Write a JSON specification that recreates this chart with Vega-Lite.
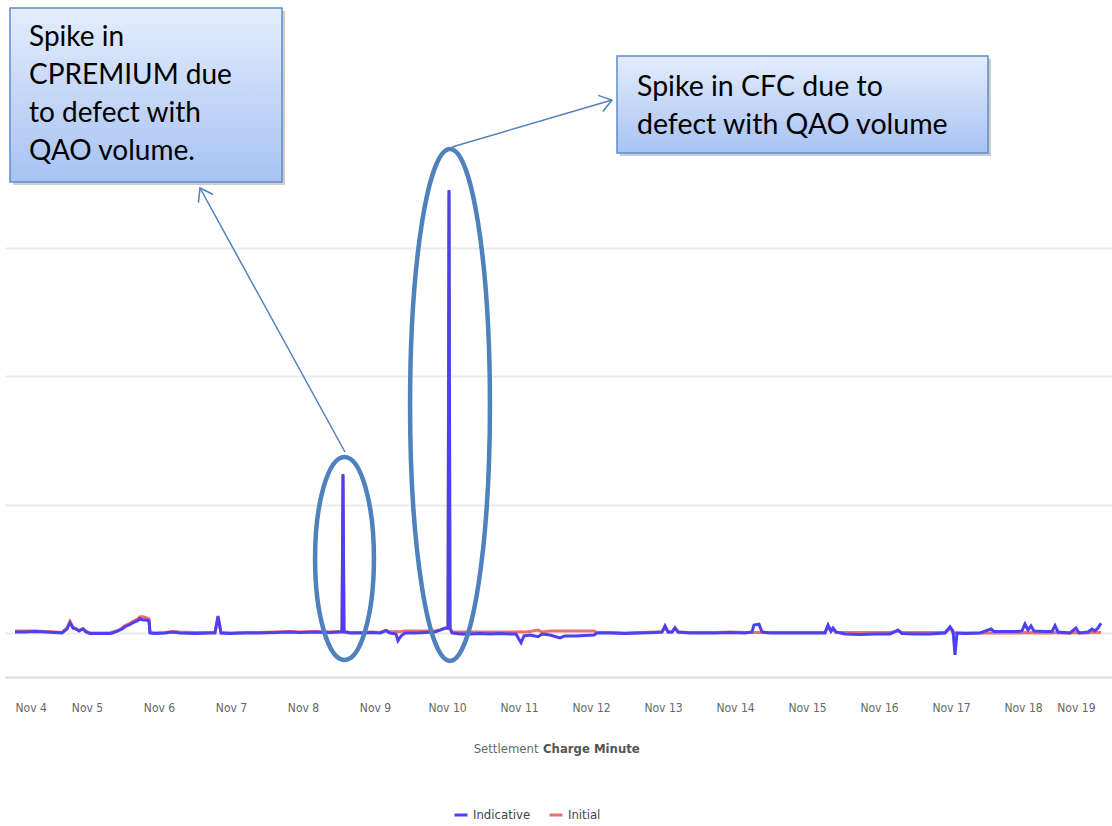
{
  "$schema": "https://vega.github.io/schema/vega-lite/v6.json",
  "width": 1107,
  "height": 677,
  "autosize": "none",
  "padding": {"left": 5, "top": 0, "right": 0, "bottom": 149},
  "background": "white",
  "config": {"view": {"stroke": null}},
  "title": {
    "text": "Charge Minute",
    "orient": "bottom",
    "anchor": "start",
    "frame": "group",
    "dx": 538,
    "dy": -83,
    "font": "Liberation Sans Narrow, DejaVu Sans Condensed, sans-serif",
    "fontSize": 13,
    "fontWeight": "bold",
    "color": "#555555"
  },
  "layer": [
    {
      "data": {"values": [
        {"date": "2019-11-04T00:00", "Indicative": 8, "Initial": 16},
        {"date": "2019-11-04T03:20", "Indicative": 8, "Initial": 16},
        {"date": "2019-11-04T06:40", "Indicative": 12, "Initial": 16},
        {"date": "2019-11-04T10:00", "Indicative": 8, "Initial": 12},
        {"date": "2019-11-04T13:20", "Indicative": 4, "Initial": 8},
        {"date": "2019-11-04T15:40", "Indicative": 0, "Initial": 4},
        {"date": "2019-11-04T17:20", "Indicative": 31, "Initial": 39},
        {"date": "2019-11-04T18:20", "Indicative": 80, "Initial": 90},
        {"date": "2019-11-04T19:20", "Indicative": 39, "Initial": 45},
        {"date": "2019-11-04T20:20", "Indicative": 31, "Initial": 35},
        {"date": "2019-11-04T21:20", "Indicative": 16, "Initial": 20},
        {"date": "2019-11-04T22:40", "Indicative": 31, "Initial": 35},
        {"date": "2019-11-04T23:40", "Indicative": 8, "Initial": 12},
        {"date": "2019-11-05T01:00", "Indicative": -4, "Initial": 0},
        {"date": "2019-11-05T04:20", "Indicative": -4, "Initial": 0},
        {"date": "2019-11-05T07:40", "Indicative": -4, "Initial": 0},
        {"date": "2019-11-05T08:40", "Indicative": 2, "Initial": 8},
        {"date": "2019-11-05T10:20", "Indicative": 16, "Initial": 20},
        {"date": "2019-11-05T11:40", "Indicative": 31, "Initial": 39},
        {"date": "2019-11-05T12:40", "Indicative": 49, "Initial": 57},
        {"date": "2019-11-05T14:00", "Indicative": 62, "Initial": 70},
        {"date": "2019-11-05T15:20", "Indicative": 80, "Initial": 90},
        {"date": "2019-11-05T16:40", "Indicative": 94, "Initial": 105},
        {"date": "2019-11-05T17:40", "Indicative": 113, "Initial": 126},
        {"date": "2019-11-05T18:40", "Indicative": 101, "Initial": 126},
        {"date": "2019-11-05T19:40", "Indicative": 101, "Initial": 120},
        {"date": "2019-11-05T20:40", "Indicative": 94, "Initial": 110},
        {"date": "2019-11-05T21:00", "Indicative": 0, "Initial": 4},
        {"date": "2019-11-05T22:40", "Indicative": -4, "Initial": 0},
        {"date": "2019-11-06T02:00", "Indicative": 0, "Initial": 4},
        {"date": "2019-11-06T04:20", "Indicative": 8, "Initial": 12},
        {"date": "2019-11-06T07:00", "Indicative": 0, "Initial": 8},
        {"date": "2019-11-06T12:00", "Indicative": -4, "Initial": 4},
        {"date": "2019-11-06T17:00", "Indicative": 0, "Initial": 4},
        {"date": "2019-11-06T18:40", "Indicative": 0, "Initial": 4},
        {"date": "2019-11-06T19:40", "Indicative": 132, "Initial": 125},
        {"date": "2019-11-06T20:40", "Indicative": 0, "Initial": 4},
        {"date": "2019-11-06T23:40", "Indicative": -4, "Initial": 0},
        {"date": "2019-11-07T04:40", "Indicative": 0, "Initial": 4},
        {"date": "2019-11-07T09:40", "Indicative": 0, "Initial": 4},
        {"date": "2019-11-07T14:40", "Indicative": 4, "Initial": 8},
        {"date": "2019-11-07T19:40", "Indicative": 8, "Initial": 12},
        {"date": "2019-11-07T23:00", "Indicative": 4, "Initial": 8},
        {"date": "2019-11-08T04:00", "Indicative": 8, "Initial": 12},
        {"date": "2019-11-08T09:00", "Indicative": 4, "Initial": 8},
        {"date": "2019-11-08T12:20", "Indicative": 8, "Initial": 12},
        {"date": "2019-11-08T13:00", "Indicative": 8, "Initial": 12},
        {"date": "2019-11-08T13:20", "Indicative": 1239, "Initial": 1225},
        {"date": "2019-11-08T13:40", "Indicative": 8, "Initial": 12},
        {"date": "2019-11-08T15:40", "Indicative": 0, "Initial": 4},
        {"date": "2019-11-08T19:00", "Indicative": 0, "Initial": 4},
        {"date": "2019-11-08T23:00", "Indicative": 4, "Initial": 8},
        {"date": "2019-11-09T01:40", "Indicative": 0, "Initial": 4},
        {"date": "2019-11-09T03:40", "Indicative": 18, "Initial": 20},
        {"date": "2019-11-09T05:00", "Indicative": 0, "Initial": 8},
        {"date": "2019-11-09T07:00", "Indicative": -8, "Initial": 12},
        {"date": "2019-11-09T07:40", "Indicative": -60, "Initial": 10},
        {"date": "2019-11-09T08:40", "Indicative": -23, "Initial": 12},
        {"date": "2019-11-09T10:00", "Indicative": 0, "Initial": 16},
        {"date": "2019-11-09T13:20", "Indicative": 0, "Initial": 16},
        {"date": "2019-11-09T16:40", "Indicative": 4, "Initial": 16},
        {"date": "2019-11-09T20:00", "Indicative": 8, "Initial": 16},
        {"date": "2019-11-09T21:40", "Indicative": 23, "Initial": 23},
        {"date": "2019-11-09T23:20", "Indicative": 39, "Initial": 35},
        {"date": "2019-11-10T00:20", "Indicative": 39, "Initial": 35},
        {"date": "2019-11-10T00:40", "Indicative": 3452, "Initial": 3430},
        {"date": "2019-11-10T01:00", "Indicative": 39, "Initial": 35},
        {"date": "2019-11-10T01:40", "Indicative": 0, "Initial": 8},
        {"date": "2019-11-10T04:20", "Indicative": -8, "Initial": 8},
        {"date": "2019-11-10T07:40", "Indicative": -8, "Initial": 8},
        {"date": "2019-11-10T11:00", "Indicative": -4, "Initial": 8},
        {"date": "2019-11-10T14:20", "Indicative": -8, "Initial": 8},
        {"date": "2019-11-10T17:40", "Indicative": -4, "Initial": 8},
        {"date": "2019-11-10T21:00", "Indicative": -8, "Initial": 8},
        {"date": "2019-11-10T23:00", "Indicative": -8, "Initial": 8},
        {"date": "2019-11-11T00:40", "Indicative": -76, "Initial": 10},
        {"date": "2019-11-11T01:40", "Indicative": -23, "Initial": 8},
        {"date": "2019-11-11T03:40", "Indicative": -16, "Initial": 12},
        {"date": "2019-11-11T06:20", "Indicative": -29, "Initial": 23},
        {"date": "2019-11-11T07:40", "Indicative": -8, "Initial": 8},
        {"date": "2019-11-11T10:20", "Indicative": -16, "Initial": 16},
        {"date": "2019-11-11T13:40", "Indicative": -39, "Initial": 16},
        {"date": "2019-11-11T15:20", "Indicative": -23, "Initial": 16},
        {"date": "2019-11-11T18:40", "Indicative": -23, "Initial": 16},
        {"date": "2019-11-11T22:00", "Indicative": -19, "Initial": 16},
        {"date": "2019-11-12T01:00", "Indicative": -16, "Initial": 16},
        {"date": "2019-11-12T02:00", "Indicative": 0, "Initial": 4},
        {"date": "2019-11-12T06:20", "Indicative": 0, "Initial": 4},
        {"date": "2019-11-12T11:20", "Indicative": -4, "Initial": 0},
        {"date": "2019-11-12T16:20", "Indicative": 0, "Initial": 4},
        {"date": "2019-11-12T21:20", "Indicative": 4, "Initial": 8},
        {"date": "2019-11-12T23:40", "Indicative": 8, "Initial": 8},
        {"date": "2019-11-13T00:40", "Indicative": 55, "Initial": 45},
        {"date": "2019-11-13T01:40", "Indicative": 8, "Initial": 8},
        {"date": "2019-11-13T03:00", "Indicative": 8, "Initial": 8},
        {"date": "2019-11-13T04:00", "Indicative": 41, "Initial": 35},
        {"date": "2019-11-13T05:00", "Indicative": 8, "Initial": 8},
        {"date": "2019-11-13T09:00", "Indicative": 0, "Initial": 4},
        {"date": "2019-11-13T12:20", "Indicative": 0, "Initial": 4},
        {"date": "2019-11-13T17:20", "Indicative": 0, "Initial": 4},
        {"date": "2019-11-13T22:20", "Indicative": 4, "Initial": 8},
        {"date": "2019-11-14T03:20", "Indicative": 0, "Initial": 4},
        {"date": "2019-11-14T05:40", "Indicative": 8, "Initial": 4},
        {"date": "2019-11-14T06:20", "Indicative": 62, "Initial": 4},
        {"date": "2019-11-14T08:00", "Indicative": 68, "Initial": 4},
        {"date": "2019-11-14T09:00", "Indicative": 8, "Initial": 4},
        {"date": "2019-11-14T11:40", "Indicative": 0, "Initial": 4},
        {"date": "2019-11-14T16:40", "Indicative": 0, "Initial": 4},
        {"date": "2019-11-14T21:40", "Indicative": 0, "Initial": 4},
        {"date": "2019-11-15T02:40", "Indicative": 0, "Initial": 4},
        {"date": "2019-11-15T06:00", "Indicative": 0, "Initial": 4},
        {"date": "2019-11-15T07:00", "Indicative": 62, "Initial": 50},
        {"date": "2019-11-15T08:00", "Indicative": 16, "Initial": 12},
        {"date": "2019-11-15T08:40", "Indicative": 39, "Initial": 30},
        {"date": "2019-11-15T09:40", "Indicative": 8, "Initial": 4},
        {"date": "2019-11-15T12:40", "Indicative": -8, "Initial": 4},
        {"date": "2019-11-15T17:40", "Indicative": -12, "Initial": 4},
        {"date": "2019-11-15T22:40", "Indicative": -8, "Initial": 4},
        {"date": "2019-11-16T03:40", "Indicative": -8, "Initial": 4},
        {"date": "2019-11-16T06:20", "Indicative": 23, "Initial": 16},
        {"date": "2019-11-16T07:40", "Indicative": -4, "Initial": 4},
        {"date": "2019-11-16T12:00", "Indicative": -8, "Initial": 4},
        {"date": "2019-11-16T17:00", "Indicative": -8, "Initial": 4},
        {"date": "2019-11-16T22:00", "Indicative": 0, "Initial": 4},
        {"date": "2019-11-16T23:40", "Indicative": 49, "Initial": 35},
        {"date": "2019-11-17T00:40", "Indicative": 16, "Initial": 4},
        {"date": "2019-11-17T01:20", "Indicative": -171, "Initial": 0},
        {"date": "2019-11-17T02:00", "Indicative": 0, "Initial": 0},
        {"date": "2019-11-17T04:40", "Indicative": -4, "Initial": 0},
        {"date": "2019-11-17T09:40", "Indicative": 0, "Initial": 0},
        {"date": "2019-11-17T13:20", "Indicative": 31, "Initial": 0},
        {"date": "2019-11-17T14:20", "Indicative": 12, "Initial": 0},
        {"date": "2019-11-17T18:00", "Indicative": 12, "Initial": 0},
        {"date": "2019-11-17T22:20", "Indicative": 12, "Initial": 0},
        {"date": "2019-11-17T23:40", "Indicative": 16, "Initial": 0},
        {"date": "2019-11-18T00:40", "Indicative": 70, "Initial": 4},
        {"date": "2019-11-18T01:40", "Indicative": 23, "Initial": 0},
        {"date": "2019-11-18T02:40", "Indicative": 55, "Initial": 4},
        {"date": "2019-11-18T03:40", "Indicative": 16, "Initial": 0},
        {"date": "2019-11-18T07:20", "Indicative": 12, "Initial": 0},
        {"date": "2019-11-18T09:40", "Indicative": 12, "Initial": 0},
        {"date": "2019-11-18T10:40", "Indicative": 57, "Initial": 4},
        {"date": "2019-11-18T11:40", "Indicative": 8, "Initial": 0},
        {"date": "2019-11-18T15:40", "Indicative": 0, "Initial": 0},
        {"date": "2019-11-18T17:40", "Indicative": 39, "Initial": 4},
        {"date": "2019-11-18T18:40", "Indicative": 0, "Initial": 0},
        {"date": "2019-11-18T21:40", "Indicative": 8, "Initial": 0},
        {"date": "2019-11-18T23:00", "Indicative": 31, "Initial": 4},
        {"date": "2019-11-19T00:00", "Indicative": 16, "Initial": 4},
        {"date": "2019-11-19T01:00", "Indicative": 39, "Initial": 4},
        {"date": "2019-11-19T02:00", "Indicative": 76, "Initial": 4}
      ]},
      "transform": [{"fold": ["Indicative", "Initial"], "as": ["series", "value"]}],
      "encoding": {
        "x": {
          "field": "date", "type": "temporal",
          "scale": {"domain": [
            {"year": 2019, "month": 11, "date": 3, "hours": 20, "minutes": 40},
            {"year": 2019, "month": 11, "date": 19, "hours": 5, "minutes": 40}
          ]},
          "axis": {
            "orient": "bottom",
            "tickCount": {"interval": "day", "step": 1},
            "format": "%b %-d",
            "grid": false,
            "ticks": false,
            "tickSize": 0,
            "labelPadding": 25,
            "labelFont": "Liberation Sans Narrow, DejaVu Sans Condensed, sans-serif",
            "labelFontSize": 12,
            "labelColor": "#666666",
            "labelOverlap": false,
            "labelFlush": 20,
            "domain": true,
            "domainColor": "#e2e6ee",
            "domainWidth": 3,
            "title": "Settlement",
            "titleX": 533,
            "titleY": 71,
            "titleAlign": "right",
            "titleBaseline": "middle",
            "titleFont": "Liberation Sans Narrow, DejaVu Sans Condensed, sans-serif",
            "titleFontSize": 13,
            "titleFontWeight": "normal",
            "titleColor": "#666666"
          }
        },
        "y": {
          "field": "value", "type": "quantitative",
          "scale": {"domain": [-343, 4932.5], "nice": false, "zero": false},
          "axis": {
            "values": [0, 1000, 2000, 3000],
            "labels": false, "ticks": false, "domain": false, "title": null,
            "grid": true, "gridColor": "#ebebeb", "gridWidth": 2
          }
        },
        "color": {
          "field": "series", "type": "nominal",
          "scale": {"domain": ["Indicative", "Initial"], "range": ["#4b41f2", "#f46d6d"]},
          "legend": {
            "orient": "none",
            "legendX": 448,
            "legendY": 807,
            "direction": "horizontal",
            "title": null,
            "padding": 0,
            "symbolType": "stroke",
            "symbolSize": 169,
            "symbolStrokeWidth": 3,
            "labelFont": "Liberation Sans Narrow, DejaVu Sans Condensed, sans-serif",
            "labelFontSize": 13,
            "labelColor": "#444444",
            "labelOffset": 4,
            "columnPadding": 12
          }
        }
      },
      "layer": [
        {"transform": [{"filter": "datum.series === 'Initial'"}], "mark": {"type": "line", "strokeWidth": 3, "interpolate": "linear"}},
        {"transform": [{"filter": "datum.series === 'Indicative'"}], "mark": {"type": "line", "strokeWidth": 3, "interpolate": "linear"}}
      ]
    },
    {
      "data": {"values": [{"date": "2019-11-08T13:50", "value": 580.5}]},
      "mark": {"type": "point", "filled": false, "stroke": "#4f81bd", "strokeWidth": 4.5, "opacity": 1, "size": 41209,
        "shape": "M 0.29 0 C 0.29 0.552 0.16 1 0 1 C -0.16 1 -0.29 0.552 -0.29 0 C -0.29 -0.552 -0.16 -1 0 -1 C 0.16 -1 0.29 -0.552 0.29 0 Z"},
      "encoding": {"x": {"field": "date", "type": "temporal"}, "y": {"field": "value", "type": "quantitative"}}
    },
    {
      "data": {"values": [{"date": "2019-11-10T01:00", "value": 1776.6}]},
      "mark": {"type": "point", "filled": false, "stroke": "#4f81bd", "strokeWidth": 4.5, "opacity": 1, "size": 262144,
        "shape": "M 0.156 0 C 0.156 0.552 0.086 1 0 1 C -0.086 1 -0.156 0.552 -0.156 0 C -0.156 -0.552 -0.086 -1 0 -1 C 0.086 -1 0.156 -0.552 0.156 0 Z"},
      "encoding": {"x": {"field": "date", "type": "temporal"}, "y": {"field": "value", "type": "quantitative"}}
    },
    {
      "data": {"values": [
        {"from": "2019-11-08T14:00", "fromValue": 1410.4, "to": "2019-11-06T13:40", "toValue": 3467.5},
        {"from": "2019-11-10T01:40", "fromValue": 3787.0, "to": "2019-11-12T07:00", "toValue": 4153.2}
      ]},
      "mark": {"type": "rule", "stroke": "#4f81bd", "strokeWidth": 1.5},
      "encoding": {
        "x": {"field": "from", "type": "temporal"}, "y": {"field": "fromValue", "type": "quantitative"},
        "x2": {"field": "to"}, "y2": {"field": "toValue"}
      }
    },
    {
      "data": {"values": [{"date": "2019-11-06T13:40", "value": 3467.5}]},
      "mark": {"type": "point", "filled": false, "stroke": "#4f81bd", "strokeWidth": 1.5, "opacity": 1, "size": 576, "angle": 241.2,
        "shape": "M -1 -0.7 L 0 0 L -1 0.7"},
      "encoding": {"x": {"field": "date", "type": "temporal"}, "y": {"field": "value", "type": "quantitative"}}
    },
    {
      "data": {"values": [{"date": "2019-11-12T07:00", "value": 4153.2}]},
      "mark": {"type": "point", "filled": false, "stroke": "#4f81bd", "strokeWidth": 1.5, "opacity": 1, "size": 576, "angle": 343.6,
        "shape": "M -1 -0.7 L 0 0 L -1 0.7"},
      "encoding": {"x": {"field": "date", "type": "temporal"}, "y": {"field": "value", "type": "quantitative"}}
    },
    {
      "data": {"values": [
        {"start": "2019-11-03T23:20", "end": "2019-11-07T18:00", "top": 4846.7, "bottom": 3490.9},
        {"start": "2019-11-12T09:40", "end": "2019-11-17T13:20", "top": 4472.7, "bottom": 3716.9}
      ]},
      "mark": {"type": "rect", "fill": "#555555", "opacity": 0.3},
      "encoding": {
        "x": {"field": "start", "type": "temporal"}, "x2": {"field": "end"},
        "y": {"field": "top", "type": "quantitative"}, "y2": {"field": "bottom"}
      }
    },
    {
      "data": {"values": [
        {"start": "2019-11-03T22:20", "end": "2019-11-07T17:00", "top": 4870, "bottom": 3514.3},
        {"start": "2019-11-12T08:40", "end": "2019-11-17T12:20", "top": 4496.1, "bottom": 3740.3}
      ]},
      "mark": {
        "type": "rect",
        "fill": {"gradient": "linear", "x1": 0, "y1": 0, "x2": 0, "y2": 1,
          "stops": [{"offset": 0, "color": "#e4edfc"}, {"offset": 1, "color": "#a7c2f3"}]},
        "stroke": "#5d8ccb", "strokeWidth": 1.5
      },
      "encoding": {
        "x": {"field": "start", "type": "temporal"}, "x2": {"field": "end"},
        "y": {"field": "top", "type": "quantitative"}, "y2": {"field": "bottom"}
      }
    },
    {
      "data": {"values": [{"date": "2019-11-04T04:40", "value": 4636.4}]},
      "mark": {"type": "text", "text": ["Spike in", "CPREMIUM due", "to defect with", "QAO volume."],
        "align": "left", "baseline": "middle", "lineHeight": 38, "font": "Lato", "fontSize": 28, "color": "#000000"},
      "encoding": {"x": {"field": "date", "type": "temporal"}, "y": {"field": "value", "type": "quantitative"}}
    },
    {
      "data": {"values": [{"date": "2019-11-12T15:20", "value": 4254.5}]},
      "mark": {"type": "text", "text": ["Spike in CFC due to", "defect with QAO volume"],
        "align": "left", "baseline": "middle", "lineHeight": 38, "font": "Lato", "fontSize": 28.5, "color": "#000000"},
      "encoding": {"x": {"field": "date", "type": "temporal"}, "y": {"field": "value", "type": "quantitative"}}
    }
  ]
}
